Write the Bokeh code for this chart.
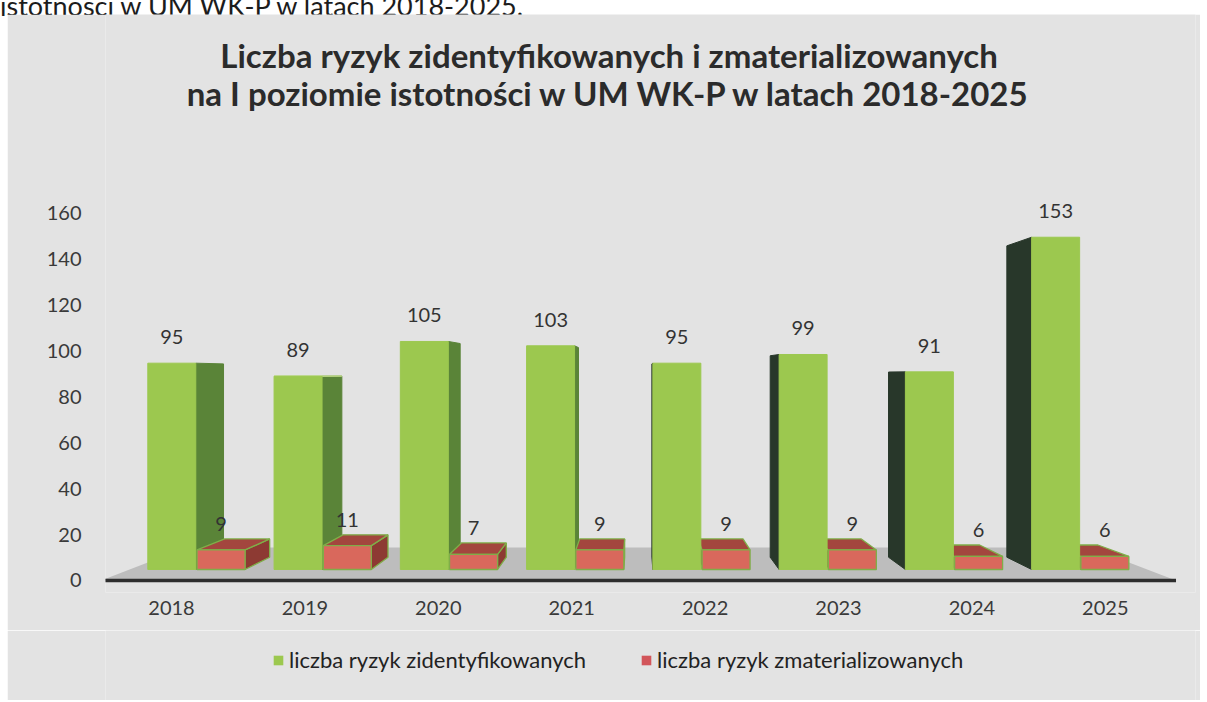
from bokeh.plotting import figure
from bokeh.models import (Range1d, FixedTicker, Label, Legend, LegendItem, Div,
                          ColumnDataSource)
from bokeh.layouts import column
from bokeh.embed import file_html
from bokeh.resources import INLINE
from bokeh.core.properties import value

# ---------------- data ----------------
years = ["2018", "2019", "2020", "2021", "2022", "2023", "2024", "2025"]
identified = [95, 89, 105, 103, 95, 99, 91, 153]
materialized = [9, 11, 7, 9, 9, 9, 6, 6]
y_ticks = [0, 20, 40, 60, 80, 100, 120, 140, 160]
series_names = ["liczba ryzyk zidentyfikowanych", "liczba ryzyk zmaterializowanych"]
title_lines = ["Liczba ryzyk zidentyfikowanych i zmaterializowanych",
               "na I poziomie istotności w UM WK-P w latach 2018-2025"]
caption = "istotności w UM WK-P w latach 2018-2025."

# ---------------- style / 3D camera ----------------
FONT = "Lato"
BG = "#e3e3e3"
GREEN = dict(front="#9cc84f", side_r="#5a8438", side_l="#28372a", top="#bcd984", line=None, lw=1)
RED = dict(front="#d9685c", side_r="#8d3a33", side_l="#5c2723", top="#a3463e", line="#7fae48", lw=1.3)
LEGEND_RED = "#d2555a"
VP_X, VP_Y = 3.49, 89.8          # vanishing point (data units)
D_FRONT, D_BACK, D_FLOOR = 0.0535, 0.113, 0.16
BAR_W, GAP = 0.38, 0.005
FLOOR_PAD = 0.53
TITLE_X, TITLE_Y = 3.28, (228.9, 212.7)


def proj(x, y, d):
    return x + d * (VP_X - x), y + d * (VP_Y - y)


faces = dict(xs=[], ys=[], fill=[], line=[], lw=[])


def add_face(pts, fill, line, lw):
    faces["xs"].append([pt[0] for pt in pts])
    faces["ys"].append([pt[1] for pt in pts])
    faces["fill"].append(fill)
    faces["line"].append(line if line else fill)
    faces["lw"].append(lw)


def box(x0, x1, v, pal):
    if x1 < VP_X:
        add_face([proj(x1, 0, D_FRONT), proj(x1, 0, D_BACK), proj(x1, v, D_BACK), proj(x1, v, D_FRONT)],
                 pal["side_r"], pal["line"], pal["lw"])
    if x0 > VP_X:
        add_face([proj(x0, 0, D_FRONT), proj(x0, 0, D_BACK), proj(x0, v, D_BACK), proj(x0, v, D_FRONT)],
                 pal["side_l"], pal["line"], pal["lw"])
    if v < VP_Y:
        add_face([proj(x0, v, D_FRONT), proj(x1, v, D_FRONT), proj(x1, v, D_BACK), proj(x0, v, D_BACK)],
                 pal["top"], pal["line"], pal["lw"])
    add_face([proj(x0, 0, D_FRONT), proj(x1, 0, D_FRONT), proj(x1, v, D_FRONT), proj(x0, v, D_FRONT)],
             pal["front"], pal["line"], pal["lw"])


lab = dict(x=[], y=[], t=[])
for i, (g, r) in enumerate(zip(identified, materialized)):
    gx0, gx1 = i - GAP - BAR_W, i - GAP
    rx0, rx1 = i + GAP, i + GAP + BAR_W
    if i < VP_X:
        box(gx0, gx1, g, GREEN)
        box(rx0, rx1, r, RED)
    else:
        box(rx0, rx1, r, RED)
        box(gx0, gx1, g, GREEN)
    for (a, b, v) in ((gx0, gx1, g), (rx0, rx1, r)):
        px, py = proj((a + b) / 2, v, D_FRONT)
        lab["x"].append(px)
        lab["y"].append(py)
        lab["t"].append(str(v))

# ---------------- main figure ----------------
p = figure(width=1193, height=616, output_backend="svg", toolbar_location=None,
           x_range=Range1d(-0.4948, 7.6761), y_range=Range1d(-5.231, 246.7),
           min_border_left=98, min_border_right=5, min_border_top=0, min_border_bottom=38)
p.margin = (0, 0, 0, 7)
p.background_fill_color = BG
p.border_fill_color = BG
p.outline_line_color = None
p.xgrid.grid_line_color = None
p.ygrid.grid_line_color = None

# floor
fx0, fx1 = -FLOOR_PAD, len(years) - 1 + FLOOR_PAD
floor = [proj(fx0, 0, 0), proj(fx1, 0, 0), proj(fx1, 0, D_FLOOR), proj(fx0, 0, D_FLOOR)]
p.patch([q[0] for q in floor], [q[1] for q in floor], fill_color="#bdbdbd", line_color=None)
p.line([fx0, fx1], [0, 0], line_color="#2e2e2e", line_width=3.5)

p.patches("xs", "ys", source=ColumnDataSource(faces), fill_color="fill",
          line_color="line", line_width="lw")

p.text("x", "y", "t", source=ColumnDataSource(lab), text_font=value(FONT),
       text_font_size="20px", text_align="center", text_baseline="middle",
       y_offset=-26, text_color="#333333")

# axes
p.xaxis.ticker = FixedTicker(ticks=list(range(len(years))))
p.xaxis.major_label_overrides = {i: y for i, y in enumerate(years)}
p.yaxis.ticker = FixedTicker(ticks=y_ticks)
for ax in (p.xaxis, p.yaxis):
    ax.axis_line_color = None
    ax.major_tick_line_color = None
    ax.minor_tick_line_color = None
    ax.major_tick_out = 0
    ax.major_tick_in = 0
    ax.major_label_text_font = FONT
    ax.major_label_text_font_size = "20px"
    ax.major_label_text_color = "#3a3a3a"
p.yaxis.major_label_standoff = 24
p.xaxis.major_label_standoff = 8

# title (two centred bold lines)
for line, ty in zip(title_lines, TITLE_Y):
    p.add_layout(Label(x=TITLE_X, y=ty, text=line,
                       text_align="center", text_baseline="middle", text_font=FONT,
                       text_font_style="bold", text_font_size="33px", text_color="#2b2b2b"))

# ---------------- legend strip ----------------
lf = figure(width=1193, height=70, output_backend="svg", toolbar_location=None,
            x_range=Range1d(0, 1), y_range=Range1d(0, 1),
            x_axis_location=None, y_axis_location=None,
            min_border_left=0, min_border_right=0, min_border_top=0, min_border_bottom=0)
lf.margin = (0, 0, 0, 7)
lf.background_fill_color = BG
lf.border_fill_color = BG
lf.outline_line_color = None
lf.xgrid.grid_line_color = None
lf.ygrid.grid_line_color = None
# legend proxies: kept outside the visible range, only their swatches are shown
rg = lf.quad(left=[-3], right=[-2], bottom=[-3], top=[-2], fill_color=GREEN["front"], line_color=None)
rr = lf.quad(left=[-3], right=[-2], bottom=[-3], top=[-2], fill_color=LEGEND_RED, line_color=None)
legend = Legend(items=[LegendItem(label=series_names[0], renderers=[rg]),
                       LegendItem(label=series_names[1], renderers=[rr])],
                location=(167, 27), orientation="horizontal",
                glyph_width=12, glyph_height=12, label_standoff=5, spacing=54,
                padding=0, margin=0, background_fill_alpha=0, border_line_alpha=0,
                label_text_font=FONT, label_text_font_size="22px", label_text_color="#222222")
lf.add_layout(legend)

cap = Div(text=('<div style="position:relative;top:-8px;white-space:nowrap;font-family:Lato;'
                'font-size:27px;line-height:27px;color:#1c1c1c">' + caption + '</div>'),
          width=1193, height=14, margin=(0, 0, 0, 0), styles={"overflow": "visible"})

page = column(cap, p, lf, spacing=0)
open("out.html", "w").write(file_html(page, INLINE))
